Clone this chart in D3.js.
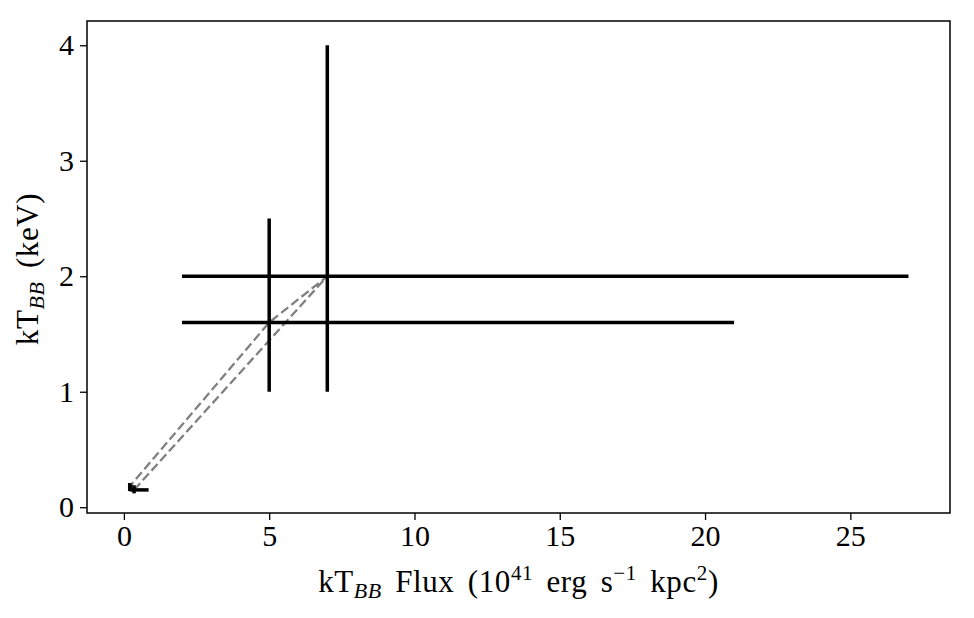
<!DOCTYPE html>
<html>
<head>
<meta charset="utf-8">
<script src="https://cdn.jsdelivr.net/npm/d3@7"></script>
<style>
  body { margin: 0; background: #fff; }
  text { font-family: "Liberation Serif", "DejaVu Serif", serif; fill: #000; }
</style>
</head>
<body>
<svg id="chart" width="974" height="618"></svg>
<script>
// measurements (flux, kT) with asymmetric error ranges
const fluxVals = [0.35, 7, 5, 0.2];
const fluxLow = [0.2, 2, 2, 0.15];
const fluxHigh = [0.85, 27, 21, 0.3];
const ktVals = [0.15, 2, 1.6, 0.18];
const ktLow = [0.12, 1, 1, 0.14];
const ktHigh = [0.19, 4, 2.5, 0.21];
const xTicks = [0, 5, 10, 15, 20, 25];
const yTicks = [0, 1, 2, 3, 4];

const svg = d3.select("#chart");
const margin = { top: 21, right: 24, bottom: 105, left: 87 };
const width = +svg.attr("width");
const height = +svg.attr("height");
const innerWidth = width - margin.left - margin.right;
const innerHeight = height - margin.top - margin.bottom;

const xScale = d3.scaleLinear().domain([-1.27, 28.43]).range([0, innerWidth]);
const yScale = d3.scaleLinear().domain([-0.05, 4.21]).range([innerHeight, 0]);

const g = svg
  .append("g")
  .attr("transform", `translate(${margin.left},${margin.top})`);

const points = fluxVals.map((d, i) => ({
  x: d, y: ktVals[i],
  x0: fluxLow[i], x1: fluxHigh[i],
  y0: ktLow[i], y1: ktHigh[i],
}));

// dashed connecting line
const line = d3.line().x((d) => xScale(d.x)).y((d) => yScale(d.y));
g.append("path")
  .datum(points)
  .attr("d", line)
  .attr("fill", "none")
  .attr("stroke", "#808080")
  .attr("stroke-width", 2.3)
  .attr("stroke-dasharray", "9,4");

// error bars
g.selectAll(".xerr")
  .data(points)
  .enter()
  .append("line")
  .attr("class", "xerr")
  .attr("x1", (d) => xScale(d.x0))
  .attr("x2", (d) => xScale(d.x1))
  .attr("y1", (d) => yScale(d.y))
  .attr("y2", (d) => yScale(d.y))
  .attr("stroke", "#000")
  .attr("stroke-width", 3.5);

g.selectAll(".yerr")
  .data(points)
  .enter()
  .append("line")
  .attr("class", "yerr")
  .attr("x1", (d) => xScale(d.x))
  .attr("x2", (d) => xScale(d.x))
  .attr("y1", (d) => yScale(d.y0))
  .attr("y2", (d) => yScale(d.y1))
  .attr("stroke", "#000")
  .attr("stroke-width", 3.5);

// axes
const xAxis = g.append("g")
  .attr("transform", `translate(0,${innerHeight})`)
  .call(d3.axisBottom(xScale).tickValues(xTicks).tickFormat(d3.format("d")).tickSize(7).tickPadding(5));
const yAxis = g.append("g")
  .call(d3.axisLeft(yScale).tickValues(yTicks).tickFormat(d3.format("d")).tickSize(7).tickPadding(6));

[xAxis, yAxis].forEach((ax) => {
  ax.select(".domain").remove();
  ax.selectAll(".tick line").attr("stroke", "#000").attr("stroke-width", 1.3);
  ax.selectAll(".tick text")
    .style("font-family", '"Liberation Serif", "DejaVu Serif", serif')
    .style("font-size", "30px")
    .attr("fill", "#000");
});

g.append("rect")
  .attr("width", innerWidth)
  .attr("height", innerHeight)
  .attr("fill", "none")
  .attr("stroke", "#000")
  .attr("stroke-width", 1.5);

// axis labels
const xl = svg.append("text")
  .attr("x", margin.left + innerWidth / 2)
  .attr("y", 592)
  .attr("text-anchor", "middle")
  .style("font-size", "31px")
  .style("word-spacing", "5px")
  .style("letter-spacing", "0.6px");
xl.append("tspan").text("kT");
xl.append("tspan").attr("font-style", "italic").attr("font-size", "22px").attr("dy", 6).text("BB");
xl.append("tspan").attr("dy", -6).text(" Flux (10");
xl.append("tspan").attr("font-size", "21px").attr("dy", -12).text("41");
xl.append("tspan").attr("dy", 12).text(" erg s");
xl.append("tspan").attr("font-size", "21px").attr("dy", -12).text("\u22121");
xl.append("tspan").attr("dy", 12).text(" kpc");
xl.append("tspan").attr("font-size", "21px").attr("dy", -12).text("2");
xl.append("tspan").attr("dy", 12).text(")");

const yl = svg.append("text")
  .attr("transform", `translate(38,${margin.top + innerHeight / 2 + 2}) rotate(-90)`)
  .attr("text-anchor", "middle")
  .style("font-size", "31px")
  .style("word-spacing", "5px")
  .style("letter-spacing", "0.6px");
yl.append("tspan").text("kT");
yl.append("tspan").attr("font-style", "italic").attr("font-size", "22px").attr("dy", 6).text("BB");
yl.append("tspan").attr("dy", -6).text(" (keV)");
</script>
</body>
</html>
